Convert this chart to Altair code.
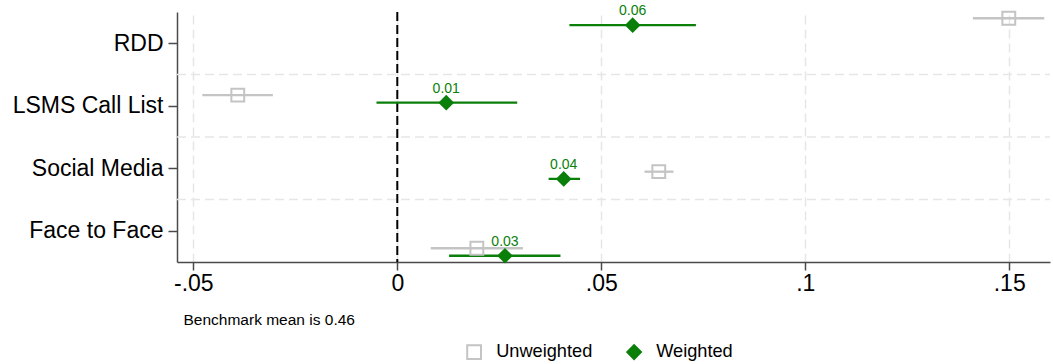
import altair as alt
import pandas as pd

# ---------------- data ----------------
categories = ["RDD", "LSMS Call List", "Social Media", "Face to Face"]

unw_est = [0.1499, -0.0391, 0.0641, 0.0195]
unw_lo = [0.1411, -0.0478, 0.0606, 0.0082]
unw_hi = [0.1586, -0.0305, 0.0677, 0.0308]
unw_off = [-0.40, -0.17, 0.055, 0.28]

w_est = [0.0577, 0.0120, 0.0408, 0.0264]
w_lo = [0.0422, -0.0051, 0.0371, 0.0127]
w_hi = [0.0732, 0.0294, 0.0448, 0.0400]
w_off = [-0.29, -0.05, 0.17, 0.40]

series_names = ["Unweighted", "Weighted"]
tick_vals = [-0.05, 0, 0.05, 0.1, 0.15]
tick_labels = ["-.05", "0", ".05", ".1", ".15"]
note = "Benchmark mean is 0.46"

GRAY = "#c4c4c4"
GREEN = "#0a7f0a"

rows = []
for i, c in enumerate(categories):
    rows.append(dict(category=c, series="Unweighted", est=unw_est[i], lo=unw_lo[i],
                     hi=unw_hi[i], pos=i + 1 + unw_off[i]))
    rows.append(dict(category=c, series="Weighted", est=w_est[i], lo=w_lo[i],
                     hi=w_hi[i], pos=i + 1 + w_off[i]))
df = pd.DataFrame(rows)
grid_df = pd.DataFrame({"pos": [i + 1.5 for i in range(len(categories) - 1)]})
zero_df = pd.DataFrame({"x": [0.0]})

x_label_expr = "''"
for v, l in zip(reversed(tick_vals), reversed(tick_labels)):
    x_label_expr = f"datum.value == {v} ? '{l}' : ({x_label_expr})"
y_label_expr = "''"
for i, c in reversed(list(enumerate(categories))):
    y_label_expr = f"datum.value == {i + 1} ? '{c}' : ({y_label_expr})"

W, H = 873, 250
FONT = "Liberation Sans"
AX = "#4a4a4a"

xscale = alt.Scale(domain=[-0.054, 0.16], nice=False, zero=False)
yscale = alt.Scale(domain=[0.5, len(categories) + 0.5], reverse=True, nice=False, zero=False)

x_axis = alt.Axis(values=tick_vals, labelExpr=x_label_expr, grid=True, gridColor="#e6e6e6",
                  gridDash=[9, 5], gridWidth=1.5, domainColor=AX, domainWidth=1.5,
                  tickColor=AX, tickSize=8, tickWidth=1.5, labelFontSize=23, labelColor="black",
                  labelPadding=2, labelFlush=False, labelFont=FONT,
                  title=note, titleFontSize=15.5, titleFontWeight="normal", titleFont=FONT,
                  titleX=6, titleY=62, titleAlign="left", titleAnchor="start",
                  titleBaseline="alphabetic", titleColor="black")
y_axis = alt.Axis(values=[i + 1 for i in range(len(categories))], labelExpr=y_label_expr,
                  grid=False, domainColor=AX, domainWidth=1.5, tickColor=AX, tickSize=9,
                  tickWidth=1.5, labelFontSize=23, labelColor="black", labelPadding=5,
                  labelFont=FONT, title=None)

legend = alt.Legend(orient="none", legendX=288, legendY=331, direction="horizontal",
                    title=None, labelFontSize=18.2, labelFont=FONT, labelColor="black",
                    symbolSize=190, symbolStrokeWidth=2, labelOffset=13, columnPadding=30,
                    padding=0)

color_domain = series_names
stroke_scale = alt.Scale(domain=color_domain, range=[GRAY, GREEN])
fill_scale = alt.Scale(domain=color_domain, range=["transparent", GREEN])
shape_scale = alt.Scale(domain=color_domain, range=["square", "diamond"])

X_est = alt.X("est:Q", scale=xscale, axis=x_axis)
Y_pos = alt.Y("pos:Q", scale=yscale, axis=y_axis)

hgrid = alt.Chart(grid_df).mark_rule(color="#e6e6e6", strokeDash=[9, 5], strokeWidth=1.5).encode(
    y=Y_pos, x=alt.value(0), x2=alt.value(W))

zero = alt.Chart(zero_df).mark_rule(color="black", strokeDash=[9, 4], strokeWidth=2).encode(
    x=alt.X("x:Q", scale=xscale, axis=x_axis))

ci = alt.Chart(df).mark_rule(strokeWidth=2.3).encode(
    x=alt.X("lo:Q", scale=xscale, axis=x_axis),
    x2="hi:Q",
    y=Y_pos,
    stroke=alt.Stroke("series:N", scale=stroke_scale, legend=legend))

pts = alt.Chart(df).mark_point(size=165, strokeWidth=2, opacity=1).encode(
    x=X_est, y=Y_pos,
    stroke=alt.Stroke("series:N", scale=stroke_scale, legend=legend),
    fill=alt.Fill("series:N", scale=fill_scale, legend=legend),
    shape=alt.Shape("series:N", scale=shape_scale, legend=legend))

labels = alt.Chart(df).transform_filter(alt.datum.series == "Weighted").mark_text(
    dy=-10, baseline="alphabetic", align="center", fontSize=14, font=FONT, color=GREEN).encode(
    x=X_est, y=Y_pos,
    text=alt.Text("est:Q", format=".2f"))

chart = alt.layer(hgrid, zero, ci, pts, labels).properties(
    width=W, height=H,
    autosize=alt.AutoSizeParams(type="none"),
    padding={"left": 177, "top": 12, "right": 3, "bottom": 102},
    background="white",
).configure_view(stroke=None).configure_axisX(
    titleFontSize=15.5, titleFontWeight="normal", titleFont=FONT, titleColor="black"
)

chart.save("out.html", embed_options={"renderer": "svg", "actions": False})
